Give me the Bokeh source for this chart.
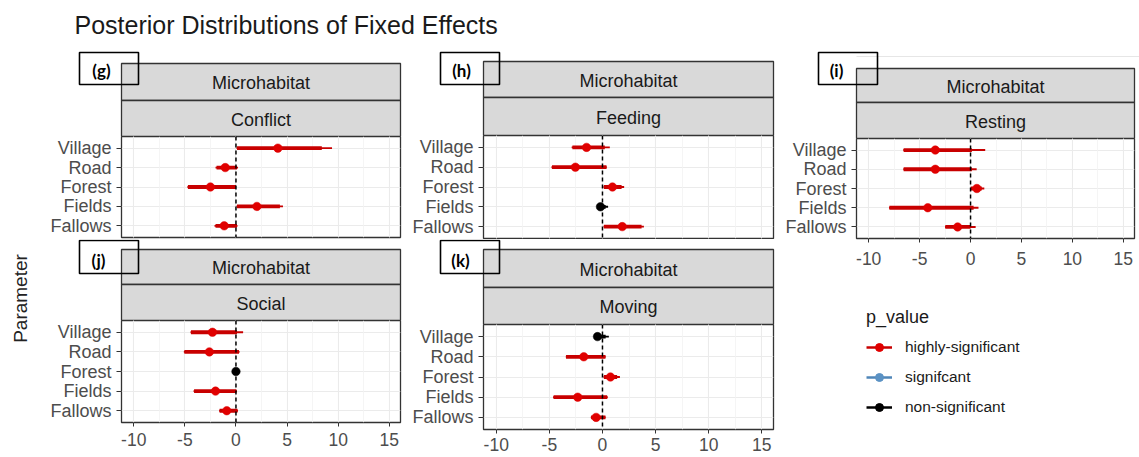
from bokeh.plotting import figure
from bokeh.models import (Range1d, FactorRange, Span, FixedTicker, Grid,
                          Legend, LegendItem, ColumnDataSource, LinearAxis)
from bokeh.layouts import column, row
from bokeh.embed import file_html
from bokeh.resources import INLINE
from bokeh.core.properties import value
import math

# ---------------- data ----------------
categories = ["Village", "Road", "Forest", "Fields", "Fallows"]
x_ticks = [-10, -5, 0, 5, 10, 15]
x_tick_labels = ["-10", "-5", "0", "5", "10", "15"]
x_minor = [-7.5, -2.5, 2.5, 7.5, 12.5]
x_limits = (-11.2, 16.1)
zero_ref = 0

sig_levels = ["highly-significant", "signifcant", "non-significant"]
line_colors = {"highly-significant": "#c80000", "signifcant": "#4f86b8", "non-significant": "#000000"}
point_colors = {"highly-significant": "#e00000", "signifcant": "#5b92c4", "non-significant": "#000000"}

conflict_est = [4.1, -1.05, -2.5, 2.05, -1.15]
conflict_lo80 = [0.1, -1.9, -4.7, 0.1, -2.0]
conflict_hi80 = [8.4, 0.1, 0.0, 4.3, 0.1]
conflict_lo95 = [0.05, -2.0, -4.75, 0.05, -2.1]
conflict_hi95 = [9.4, 0.2, 0.0, 4.6, 0.15]
conflict_sig = ["highly-significant"] * 5

feeding_est = [-1.5, -2.55, 0.94, -0.19, 1.86]
feeding_lo80 = [-2.83, -4.75, 0.13, -0.4, 0.13]
feeding_hi80 = [0.22, 0.38, 1.8, 0.3, 3.68]
feeding_lo95 = [-2.9, -4.8, 0.1, -0.45, 0.1]
feeding_hi95 = [0.69, 0.4, 2.04, 0.53, 3.9]
feeding_sig = ["highly-significant", "highly-significant", "highly-significant",
               "non-significant", "highly-significant"]

resting_est = [-3.46, -3.46, 0.62, -4.2, -1.27]
resting_lo80 = [-6.57, -6.57, 0.03, -7.97, -2.48]
resting_hi80 = [0.13, 0.13, 1.1, 0.3, 0.0]
resting_lo95 = [-6.6, -6.6, 0.0, -8.0, -2.5]
resting_hi95 = [1.44, 0.6, 1.35, 0.78, 0.5]
resting_sig = ["highly-significant"] * 5

social_est = [-2.3, -2.6, 0.0, -2.0, -0.9]
social_lo80 = [-4.4, -5.05, 0.0, -4.1, -1.6]
social_hi80 = [0.1, 0.3, 0.0, 0.05, 0.15]
social_lo95 = [-4.45, -5.1, 0.0, -4.15, -1.65]
social_hi95 = [0.7, 0.35, 0.0, 0.1, 0.2]
social_sig = ["highly-significant", "highly-significant", "non-significant",
              "highly-significant", "highly-significant"]

moving_est = [-0.47, -1.76, 0.75, -2.33, -0.6]
moving_lo80 = [-0.75, -3.43, 0.13, -4.6, -1.07]
moving_hi80 = [0.3, 0.28, 1.38, 0.44, 0.28]
moving_lo95 = [-0.8, -3.45, 0.1, -4.65, -1.1]
moving_hi95 = [0.6, 0.3, 1.64, 0.5, 0.3]
moving_sig = ["non-significant", "highly-significant", "highly-significant",
              "highly-significant", "highly-significant"]

FONT = value("Liberation Sans")


def blank(w, h):
    p = figure(width=w, height=h, x_range=Range1d(0, w), y_range=Range1d(h, 0),
               x_axis_location=None, y_axis_location=None, min_border=0,
               toolbar_location=None, output_backend="svg")
    p.frame_align = False
    p.outline_line_color = None
    p.grid.visible = False
    p.background_fill_color = "white"
    p.border_fill_color = "white"
    return p


def header(w, h, sl, sr, s_top, s_mid, s_bot, box, lab_xy, tag, facet, top_rule=None):
    p = blank(w, h)
    if top_rule is not None:
        p.segment(x0=[sl], y0=[top_rule], x1=[w], y1=[top_rule],
                  line_color="#e6e6e6", line_width=1)
    p.quad(left=[sl, sl], right=[sr, sr], top=[s_top, s_mid], bottom=[s_mid, s_bot],
           fill_color="#d9d9d9", line_color="#333333", line_width=1.3)
    p.text(x=[(sl + sr) / 2] * 2, y=[(s_top + s_mid) / 2 + 1, (s_mid + s_bot) / 2 + 1],
           text=["Microhabitat", facet], text_align="center", text_baseline="middle",
           text_font=FONT, text_font_size="18px", text_color="#1a1a1a")
    p.quad(left=[box[0]], right=[box[1]], top=[box[2]], bottom=[box[3]],
           fill_color=None, line_color="black", line_width=1.6)
    p.text(x=[lab_xy[0]], y=[lab_xy[1]], text=[tag], text_align="center",
           text_baseline="middle", text_font=value("Lato"), text_font_style="bold",
           text_font_size="17px", text_color="black")
    return p


def panel(w, h, left, right, bottom, show_x, standoff, est, lo80, hi80, lo95, hi95, sig):
    p = figure(width=w, height=h, x_range=Range1d(*x_limits),
               y_range=FactorRange(factors=categories[::-1], range_padding=0.1,
                                   range_padding_units="absolute"),
               x_axis_location=None, toolbar_location=None, output_backend="svg",
               min_border_left=left, min_border_right=right, min_border_top=0,
               min_border_bottom=bottom)
    p.frame_align = False
    p.background_fill_color = "white"
    p.border_fill_color = "white"
    p.outline_line_color = "#333333"
    p.outline_line_width = 1.3
    xt = FixedTicker(ticks=x_ticks, minor_ticks=x_minor)
    g = Grid(dimension=0, ticker=xt, grid_line_color="#ebebeb", grid_line_width=1.1,
             minor_grid_line_color="#f2f2f2", minor_grid_line_width=0.8)
    p.add_layout(g)
    p.ygrid.grid_line_color = "#ebebeb"
    p.ygrid.grid_line_width = 1.1
    if show_x:
        ax = LinearAxis(ticker=xt)
        ax.major_label_overrides = {t: lab for t, lab in zip(x_ticks, x_tick_labels)}
        ax.axis_line_color = None
        ax.major_tick_line_color = "#333333"
        ax.major_tick_out = 4
        ax.major_tick_in = 0
        ax.minor_tick_out = 0
        ax.minor_tick_in = 0
        ax.major_label_standoff = standoff
        ax.major_label_text_font = "Liberation Sans"
        ax.major_label_text_font_size = "17.5px"
        ax.major_label_text_color = "#4d4d4d"
        p.add_layout(ax, "below")
    ya = p.yaxis[0]
    ya.axis_line_color = None
    ya.major_tick_line_color = "#333333"
    ya.major_tick_out = 5
    ya.major_tick_in = 0
    ya.major_label_standoff = 5
    ya.major_label_text_font = "Liberation Sans"
    ya.major_label_text_font_size = "18px"
    ya.major_label_text_color = "#4d4d4d"

    src = ColumnDataSource(dict(cat=categories, est=est, lo80=lo80, hi80=hi80,
                                lo95=lo95, hi95=hi95,
                                lc=[line_colors[s] for s in sig],
                                pc=[point_colors[s] for s in sig]))
    p.segment(x0="lo95", y0="cat", x1="hi95", y1="cat", source=src,
              line_color="lc", line_width=1.9)
    p.segment(x0="lo80", y0="cat", x1="hi80", y1="cat", source=src,
              line_color="lc", line_width=3.8)
    p.scatter(x="est", y="cat", source=src, size=8.5, fill_color="pc",
              line_color="pc", line_width=0.5)
    p.add_layout(Span(location=zero_ref, dimension="height", line_color="black",
                      line_dash="4 3", line_width=1.5))
    return p


# ---------------- title & axis title ----------------
title_fig = blank(1139, 50)
title_fig.text(x=[74], y=[24], text=["Posterior Distributions of Fixed Effects"],
               text_align="left", text_baseline="middle", text_font=FONT,
               text_font_size="25px", text_color="#1a1a1a")

left_fig = blank(30, 407)
left_fig.text(x=[20], y=[248], text=["Parameter"], angle=math.pi / 2,
              text_align="center", text_baseline="middle", text_font=FONT,
              text_font_size="19px", text_color="#222222")

# ---------------- column A ----------------
hdr_g = header(372, 86, 91, 370, 13, 50, 86, (49, 108, 2, 34), (71, 20), "(g)", "Conflict")
plt_g = panel(372, 103, 91, 2, 2, False, 5, conflict_est, conflict_lo80, conflict_hi80,
              conflict_lo95, conflict_hi95, conflict_sig)
hdr_j = header(372, 81, 91, 370, 10, 45, 81, (49, 108, 1, 34), (68, 21), "(j)", "Social")
plt_j = panel(372, 137, 91, 2, 35, True, 6, social_est, social_lo80, social_hi80,
              social_lo95, social_hi95, social_sig)
colA = column(hdr_g, plt_g, hdr_j, plt_j)

# ---------------- column B ----------------
hdr_h = header(373, 85, 81, 371, 11, 47, 85, (38, 97, 2, 34), (59, 20), "(h)", "Feeding")
plt_h = panel(373, 104, 81, 2, 1, False, 5, feeding_est, feeding_lo80, feeding_hi80,
              feeding_lo95, feeding_hi95, feeding_sig)
hdr_k = header(373, 85, 81, 371, 10, 48, 85, (38, 97, 1, 34), (58, 21), "(k)", "Moving")
plt_k = panel(373, 133, 81, 2, 28, True, 4, moving_est, moving_lo80, moving_hi80,
              moving_lo95, moving_hi95, moving_sig)
colB = column(hdr_h, plt_h, hdr_k, plt_k)

# ---------------- column C ----------------
hdr_i = header(364, 88, 81, 359, 18, 52, 88, (43, 102, 2, 34), (61, 20), "(i)", "Resting",
               top_rule=6)
plt_i = panel(364, 137, 81, 5, 37, True, 9, resting_est, resting_lo80, resting_hi80,
              resting_lo95, resting_hi95, resting_sig)

leg_fig = blank(364, 182)
items = []
for s in sig_levels:
    ksrc = ColumnDataSource(dict(x=[float("nan")], y=[float("nan")]))
    r1 = leg_fig.line(x="x", y="y", source=ksrc, line_color=line_colors[s], line_width=2.5)
    r2 = leg_fig.scatter(x="x", y="y", source=ksrc, size=6, fill_color=point_colors[s],
                         line_color=point_colors[s])
    items.append(LegendItem(label=s, renderers=[r1, r2]))
legend = Legend(items=items, location=(91, 40), orientation="vertical",
                title="p_value", title_text_font="Liberation Sans", title_text_font_size="18px",
                title_text_color="#1a1a1a", title_text_font_style="normal",
                title_standoff=9,
                label_text_font="Liberation Sans", label_text_font_size="15.5px",
                label_text_color="#1a1a1a", glyph_width=26, glyph_height=20,
                label_standoff=13, spacing=10, padding=0, margin=0,
                border_line_color=None, background_fill_alpha=0)
leg_fig.add_layout(legend)
colC = column(hdr_i, plt_i, leg_fig)

layout = column(title_fig, row(left_fig, colA, colB, colC))

open("out.html", "w").write(file_html(layout, INLINE))
